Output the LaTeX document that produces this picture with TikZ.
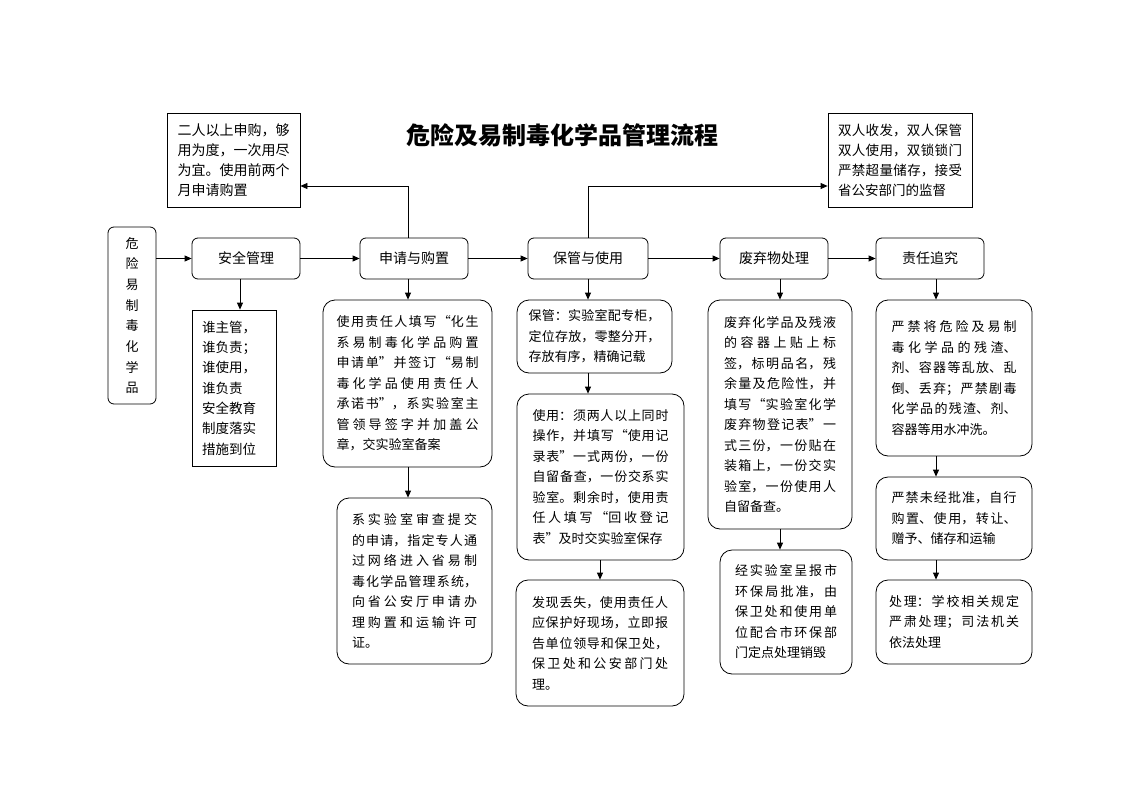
\documentclass[tikz,border=0pt]{standalone}
\usepackage{fontspec}
\setmainfont{Noto Sans CJK SC}
\usetikzlibrary{arrows.meta}
\XeTeXlinebreaklocale "zh"
\XeTeXlinebreakskip=0pt plus 3pt
\tolerance=9999
\begin{document}
\begin{tikzpicture}[x=1pt,y=-1pt,
  sqbox/.style={draw, line width=0.8pt, fill=white, inner sep=0pt, anchor=center},
  rdbox/.style={sqbox, rounded corners=12pt},
  lbl/.style={sqbox, rounded corners=6pt, minimum width=108pt, minimum height=41pt, font=\fontsize{14}{16}\selectfont},
  bodytxt/.style={font=\fontsize{13}{20.5}\selectfont, align=justify},
  conn/.style={line width=0.8pt, -{Triangle[length=7pt,width=6pt]}}]
\useasboundingbox (0,0) rectangle (1123,794);
\fill[white] (0,0) rectangle (1123,794);

% title
\node (T) at (562,135) {\fontsize{24}{28}\selectfont\bfseries 危险及易制毒化学品管理流程};

% top note boxes
\node[sqbox, minimum width=133pt, minimum height=94pt, text width=112pt, font=\fontsize{14}{20}\selectfont, align=justify] (TL) at (233.5,160) {二人以上申购，够\linebreak 用为度，一次用尽\linebreak 为宜。使用前两个\linebreak 月申请购置};
\node[sqbox, minimum width=144pt, minimum height=94pt, text width=124pt, font=\fontsize{13.5}{20}\selectfont, align=justify] (TR) at (900,160) {双人收发，双人保管\linebreak 双人使用，双锁锁门\linebreak 严禁超量储存，接受\linebreak 省公安部门的监督};

% left start box
\node[sqbox, rounded corners=6pt, minimum width=48pt, minimum height=177pt, text width=20pt, font=\fontsize{13}{20.7}\selectfont, align=center] (L) at (132,315.5) {危\\险\\易\\制\\毒\\化\\学\\品};

% main row
\node[lbl] (a) at (246,258.5) {安全管理};
\node[lbl] (b) at (414,258.5) {申请与购置};
\node[lbl, minimum width=120pt] (c) at (588,258.5) {保管与使用};
\node[lbl] (d) at (774,258.5) {废弃物处理};
\node[lbl] (e) at (930,258.5) {责任追究};

% column 1
\node[sqbox, minimum width=84pt, minimum height=156pt, text width=64pt, font=\fontsize{13.5}{20.3}\selectfont, align=left] (s1) at (234,388) {谁主管，\\谁负责；\\谁使用，\\谁负责\\安全教育\\制度落实\\措施到位};

% column 2
\node[rdbox, bodytxt, minimum width=169pt, minimum height=167pt, text width=142pt] (p1) at (407.5,383.5) {使用责任人填写“化生\linebreak 系易制毒化学品购置\linebreak 申请单”并签订“易制\linebreak 毒化学品使用责任人\linebreak 承诺书”，系实验室主\linebreak 管领导签字并加盖公\linebreak 章，交实验室备案};
\node[rdbox, bodytxt, minimum width=155pt, minimum height=166pt, text width=125pt] (p2) at (414.5,581) {系实验室审查提交\linebreak 的申请，指定专人通\linebreak 过网络进入省易制\linebreak 毒化学品管理系统，\linebreak 向省公安厅申请办\linebreak 理购置和运输许可\linebreak 证。};

% column 3
\node[rdbox, bodytxt, minimum width=155pt, minimum height=73pt, text width=132pt] (q1) at (594.5,336.5) {保管：实验室配专柜，\linebreak 定位存放，零整分开，\linebreak 存放有序，精确记载};
\node[rdbox, bodytxt, minimum width=167pt, minimum height=166pt, text width=136pt] (q2) at (600.5,477) {使用：须两人以上同时\linebreak 操作，并填写“使用记\linebreak 录表”一式两份，一份\linebreak 自留备查，一份交系实\linebreak 验室。剩余时，使用责\linebreak 任人填写“回收登记\linebreak 表”及时交实验室保存};
\node[rdbox, bodytxt, minimum width=168pt, minimum height=126pt, text width=136pt] (q3) at (600,643) {发现丢失，使用责任人\linebreak 应保护好现场，立即报\linebreak 告单位领导和保卫处，\linebreak 保卫处和公安部门处\linebreak 理。};

% column 4
\node[rdbox, bodytxt, minimum width=144pt, minimum height=229pt, text width=112pt] (r1) at (780,414.5) {废弃化学品及残液\linebreak 的容器上贴上标\linebreak 签，标明品名，残\linebreak 余量及危险性，并\linebreak 填写“实验室化学\linebreak 废弃物登记表”一\linebreak 式三份，一份贴在\linebreak 装箱上，一份交实\linebreak 验室，一份使用人\linebreak 自留备查。};
\node[rdbox, bodytxt, minimum width=132pt, minimum height=124pt, text width=102pt] (r2) at (786,612) {经实验室呈报市\linebreak 环保局批准，由\linebreak 保卫处和使用单\linebreak 位配合市环保部\linebreak 门定点处理销毁};

% column 5
\node[rdbox, bodytxt, minimum width=156pt, minimum height=156pt, text width=125pt] (t1) at (954,378) {严禁将危险及易制\linebreak 毒化学品的残渣、\linebreak 剂、容器等乱放、乱\linebreak 倒、丢弃；严禁剧毒\linebreak 化学品的残渣、剂、\linebreak 容器等用水冲洗。};
\node[rdbox, bodytxt, minimum width=156pt, minimum height=83pt, text width=125pt] (t2) at (954,518.5) {严禁未经批准，自行\linebreak 购置、使用，转让、\linebreak 赠予、储存和运输};
\node[rdbox, bodytxt, minimum width=156pt, minimum height=84pt, text width=130pt] (t3) at (954,622) {处理：学校相关规定\linebreak 严肃处理；司法机关\linebreak 依法处理};

% helper coordinates
\coordinate (k1) at (408,186);
\coordinate (k2) at (588,186);
\coordinate (x1) at (240,0);
\coordinate (x2) at (408,0);
\coordinate (x3) at (588,0);
\coordinate (x3b) at (600,0);
\coordinate (x4) at (780,0);
\coordinate (x5) at (936,0);

% row connectors
\draw[conn] (L.east |- a.west) -- (a.west);
\draw[conn] (a.east) -- (b.west);
\draw[conn] (b.east) -- (c.west);
\draw[conn] (c.east) -- (d.west);
\draw[conn] (d.east) -- (e.west);

% up to notes
\draw[conn] (b.north -| k1) -- (k1) -- (TL.east |- k1);
\draw[conn] (c.north -| k2) -- (k2) -- (TR.west |- k2);

% column connectors
\draw[conn] (a.south -| x1) -- (s1.north -| x1);
\draw[conn] (b.south -| x2) -- (p1.north -| x2);
\draw[conn] (p1.south -| x2) -- (p2.north -| x2);
\draw[conn] (c.south -| x3) -- (q1.north -| x3);
\draw[conn] (q1.south -| x3) -- (q2.north -| x3);
\draw[conn] (q2.south -| x3b) -- (q3.north -| x3b);
\draw[conn] (d.south -| x4) -- (r1.north -| x4);
\draw[conn] (r1.south -| x4) -- (r2.north -| x4);
\draw[conn] (e.south -| x5) -- (t1.north -| x5);
\draw[conn] (t1.south -| x5) -- (t2.north -| x5);
\draw[conn] (t2.south -| x5) -- (t3.north -| x5);
\end{tikzpicture}
\end{document}
